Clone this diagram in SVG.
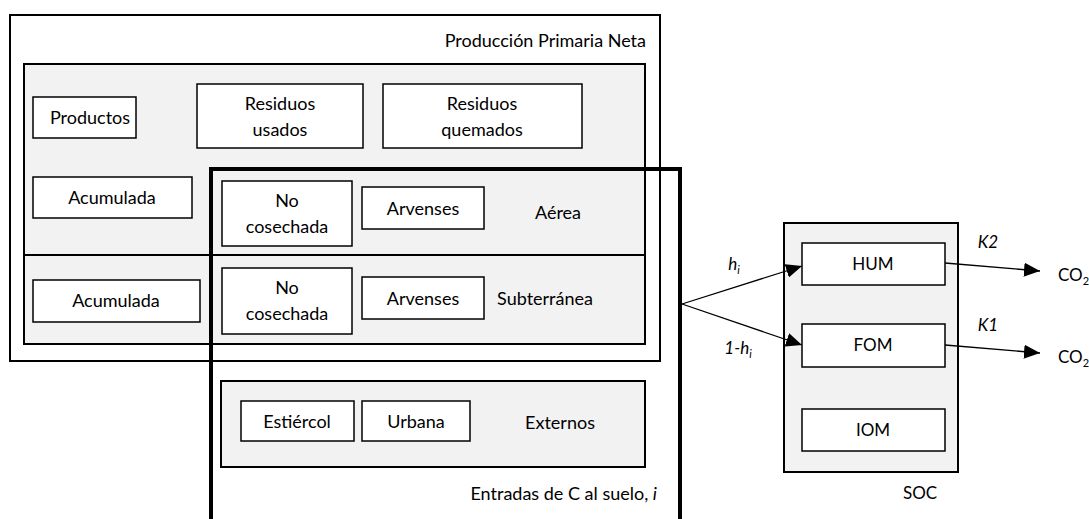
<svg xmlns="http://www.w3.org/2000/svg" width="1089" height="519" viewBox="0 0 1089 519">
<defs>
<style>
text{font-family:Lato,"Open Sans","Liberation Sans",sans-serif;font-size:18px;fill:#000;text-anchor:middle}
.r{font-size:17px}
.b{fill:#fff;stroke:#000;stroke-width:1.5}
.g{fill:#f2f2f2;stroke:#000;stroke-width:2}
.o{fill:#fff;stroke:#000;stroke-width:2}
.c{stroke:#000;stroke-width:1.3;fill:none}
</style>
<marker id="ah" viewBox="0 0 16 14" refX="16" refY="7" markerWidth="16" markerHeight="14" markerUnits="userSpaceOnUse" orient="auto"><path d="M0,0L16,7L0,14z" fill="#000"/></marker>
</defs>
<rect width="1089" height="519" fill="#fff"/>
<g id="ppn"><rect class="o" x="10" y="15" width="650" height="346"/><text x="646" y="47" style="text-anchor:end">Producción Primaria Neta</text></g>
<g id="gris"><rect class="g" x="24" y="64" width="621" height="280"/><line x1="24" y1="255" x2="645" y2="255" stroke="#000" stroke-width="2"/></g>
<g id="productos"><rect class="b" x="33" y="97" width="103" height="41"/><text x="90" y="124">Productos</text></g>
<g id="residuos-usados"><rect class="b" x="197" y="84" width="166" height="64"/><text x="280" y="110">Residuos</text><text x="280" y="136">usados</text></g>
<g id="residuos-quemados"><rect class="b" x="383" y="84" width="199" height="64"/><text x="482" y="110">Residuos</text><text x="482" y="136">quemados</text></g>
<g id="acumulada-a"><rect class="b" x="33" y="177" width="159" height="41"/><text x="112" y="204">Acumulada</text></g>
<g id="externos"><rect class="g" x="221" y="381" width="424" height="86"/><text x="560" y="429">Externos</text></g>
<g id="nc-a"><rect class="b" x="222" y="181" width="130" height="65"/><text x="287" y="207">No</text><text x="287" y="233">cosechada</text></g>
<g id="arv-a"><rect class="b" x="362" y="187" width="122" height="42"/><text x="423" y="215">Arvenses</text></g>
<text x="558" y="219">Aérea</text>
<g id="acumulada-s"><rect class="b" x="33" y="280" width="167" height="42"/><text x="116" y="307">Acumulada</text></g>
<g id="nc-s"><rect class="b" x="222" y="268" width="130" height="66"/><text x="287" y="294">No</text><text x="287" y="320">cosechada</text></g>
<g id="arv-s"><rect class="b" x="362" y="277" width="122" height="42"/><text x="423" y="305">Arvenses</text></g>
<text x="545" y="305">Subterránea</text>
<g id="estiercol"><rect class="b" x="241" y="401" width="113" height="40"/><text x="297" y="428">Estiércol</text></g>
<g id="urbana"><rect class="b" x="362" y="401" width="108" height="40"/><text x="416" y="428">Urbana</text></g>
<g id="entradas"><path d="M211,519V169H680V519" fill="none" stroke="#000" stroke-width="4"/><text x="657" y="500" style="text-anchor:end">Entradas de C al suelo, <tspan font-style="italic">i</tspan></text></g>
<g id="soc"><rect class="g" x="784" y="223" width="174" height="249"/><text class="r" x="920" y="499">SOC</text></g>
<g id="hum"><rect class="b" x="802" y="243" width="143" height="42"/><text class="r" x="873" y="270">HUM</text></g>
<g id="fom"><rect class="b" x="802" y="324" width="143" height="43"/><text class="r" x="873" y="351">FOM</text></g>
<g id="iom"><rect class="b" x="802" y="409" width="143" height="42"/><text class="r" x="873" y="436">IOM</text></g>
<g id="connectors">
<line class="c" x1="682" y1="304" x2="802" y2="266" marker-end="url(#ah)"/>
<line class="c" x1="682" y1="304" x2="802" y2="345" marker-end="url(#ah)"/>
<line class="c" x1="945" y1="263" x2="1040" y2="271" marker-end="url(#ah)"/>
<line class="c" x1="945" y1="345" x2="1040" y2="353" marker-end="url(#ah)"/>
</g>
<g id="labels" style="font-style:italic">
<text class="r" x="734" y="270">h<tspan font-size="11" dy="4">i</tspan></text>
<text class="r" x="738" y="354">1-h<tspan font-size="11" dy="4">i</tspan></text>
<text class="r" x="988" y="248">K2</text>
<text class="r" x="988" y="331">K1</text>
</g>
<text class="r" x="1058" y="281" style="text-anchor:start">CO<tspan font-size="11" dy="4">2</tspan></text>
<text class="r" x="1058" y="363" style="text-anchor:start">CO<tspan font-size="11" dy="4">2</tspan></text>
</svg>
